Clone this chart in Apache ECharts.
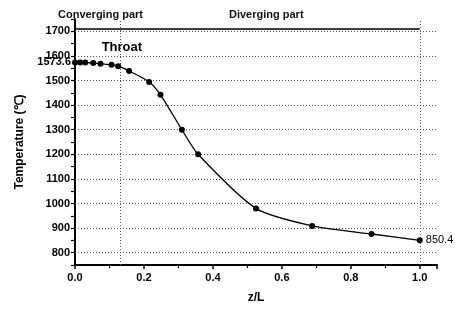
<!DOCTYPE html>
<html>
<head>
<meta charset="utf-8">
<script src="https://cdn.jsdelivr.net/npm/echarts@6/dist/echarts.min.js"></script>
<style>
html,body{margin:0;padding:0;background:#fff;}
#c{width:466px;height:309px;}
</style>
</head>
<body>
<div id="c"></div>
<script>
// z/L positions along the nozzle
var zL = [0, 0.015, 0.03, 0.053, 0.074, 0.106, 0.125, 0.157, 0.215, 0.248, 0.31, 0.357, 0.525, 0.688, 0.86, 1.0];
// Temperature (°C)
var temps = [1573.6, 1573.6, 1573.2, 1571, 1568, 1564, 1558, 1539, 1494, 1442, 1300, 1200, 980, 909, 876, 850.4];
// horizontal grid values
var yGrid = [800, 900, 1000, 1100, 1200, 1300, 1400, 1500, 1600, 1700];
// vertical reference lines (throat, exit)
var xRefs = [0.125, 1.0];
// annotation values
var throatLabel = {text: 'Throat', x: 0.136, y: 1636};
var arrowY = 1711;
var regionLabels = ['Converging part', 'Diverging part'];

var FONT = 'Liberation Sans, Arial, sans-serif';
var pts = zL.map(function (x, i) { return [x, temps[i]]; });
var last = pts.length - 1;

var chart = echarts.init(document.getElementById('c'));
var dotted = {color: '#555', type: [1, 2], width: 1};

chart.setOption({
  animation: false,
  backgroundColor: '#fff',
  grid: {left: 75, right: 29, top: 19, bottom: 41.5, containLabel: false},
  graphic: [
    {type: 'text', left: 58, top: 9, style: {text: regionLabels[0], font: 'bold 11px ' + FONT, fill: '#111'}},
    {type: 'text', left: 229, top: 9, style: {text: regionLabels[1], font: 'bold 11px ' + FONT, fill: '#111'}}
  ],
  xAxis: {
    type: 'value', min: 0, max: 1.05, interval: 0.2,
    name: 'z/L', nameLocation: 'middle', nameGap: 27,
    nameTextStyle: {fontFamily: FONT, fontWeight: 'bold', fontSize: 12, color: '#000'},
    axisLine: {show: true, onZero: false, lineStyle: {color: '#000', width: 2}},
    axisTick: {show: true, inside: false, length: 4, lineStyle: {color: '#000', width: 1.5}},
    minorTick: {show: true, splitNumber: 2, length: 3, lineStyle: {color: '#000', width: 1.2}},
    axisLabel: {fontFamily: FONT, fontWeight: 'bold', fontSize: 11, color: '#000', margin: 7,
      showMaxLabel: false,
      formatter: function (v) { return v.toFixed(1); }},
    splitLine: {show: false}
  },
  yAxis: {
    type: 'value', min: 750, max: 1750, interval: 50,
    name: 'Temperature (\u2103)', nameLocation: 'middle', nameGap: 49, nameRotate: 90,
    nameTextStyle: {fontFamily: FONT, fontWeight: 'bold', fontSize: 12, color: '#000'},
    axisLine: {show: true, onZero: false, lineStyle: {color: '#000', width: 2}},
    axisTick: {show: true, inside: false, length: 4, lineStyle: {color: '#000', width: 1.2}},
    axisLabel: {fontFamily: FONT, fontWeight: 'bold', fontSize: 11, color: '#000', margin: 5,
      formatter: function (v) { return (Math.round(v) % 100 === 0) ? String(Math.round(v)) : ''; }},
    splitLine: {show: false}
  },
  series: [{
    type: 'line',
    data: pts,
    smooth: 0.25,
    symbol: 'circle', symbolSize: 6,
    lineStyle: {color: '#000', width: 1.3},
    itemStyle: {color: '#000'},
    z: 5,
    markLine: {
      silent: true, symbol: 'none', animation: false,
      label: {show: false},
      data: yGrid.map(function (v) { return {yAxis: v, lineStyle: dotted}; })
        .concat(xRefs.map(function (v) { return {xAxis: v, lineStyle: dotted}; }))
        .concat([[{coord: [0, arrowY], lineStyle: {color: '#000', width: 1.6, type: 'solid'}}, {coord: [xRefs[1], arrowY]}]])
    },
    markPoint: {
      silent: true, symbol: 'circle', symbolSize: 0, animation: false,
      data: [
        {coord: pts[0], label: {show: true, position: 'left', distance: 4, formatter: String(temps[0]),
          fontFamily: FONT, fontWeight: 'bold', fontSize: 11, color: '#000'}},
        {coord: pts[last], label: {show: true, position: 'right', distance: 6, formatter: String(temps[last]),
          fontFamily: FONT, fontSize: 11, color: '#000'}},
        {coord: [throatLabel.x, throatLabel.y], label: {show: true, position: 'inside', formatter: throatLabel.text,
          fontFamily: FONT, fontWeight: 'bold', fontSize: 13, color: '#000'}}
      ]
    }
  }]
});
</script>
</body>
</html>
